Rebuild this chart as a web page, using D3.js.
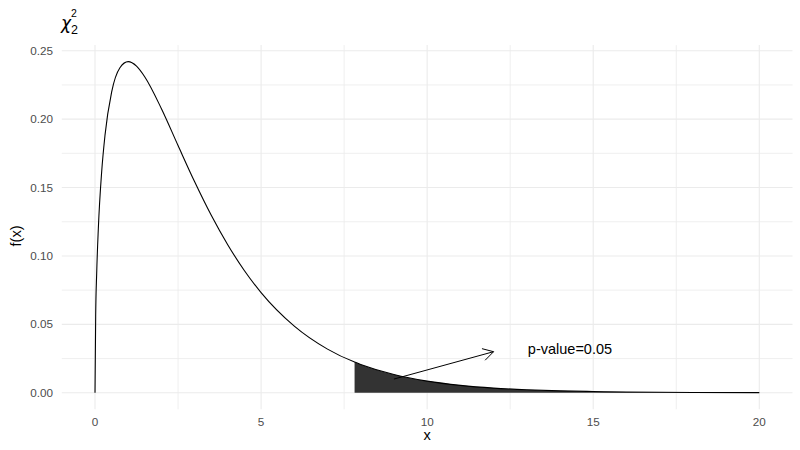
<!DOCTYPE html>
<html>
<head>
<meta charset="utf-8">
<script src="https://cdn.jsdelivr.net/npm/d3@7"></script>
<style>
  body { margin: 0; background: #fff; }
  text { font-family: "Liberation Sans", Arial, sans-serif; }
</style>
</head>
<body>
<div id="chart"></div>
<script>
// density values
const xs = [0, 0.02, 0.05, 0.1, 0.2, 0.3, 0.5, 0.75, 1, 1.25, 1.5, 2, 2.5, 3, 3.5, 4, 4.5, 5, 6, 7, 7.815, 8, 9, 10, 11, 12, 13, 14, 15, 16, 18, 20];
const fx = [0, 0.0559, 0.0870, 0.1200, 0.1614, 0.1881, 0.2197, 0.2375, 0.2420, 0.2387, 0.2308, 0.2076, 0.1807, 0.1542, 0.1297, 0.1080, 0.0892, 0.0732, 0.0487, 0.0319, 0.0224, 0.0207, 0.0133, 0.0085, 0.0054, 0.0034, 0.0022, 0.0014, 0.0009, 0.0005, 0.0002, 0.0001];
const critical = 7.815;
const xTicks = [0, 5, 10, 15, 20];
const xMinor = [2.5, 7.5, 12.5, 17.5];
const yTicks = [0, 0.05, 0.10, 0.15, 0.20, 0.25];
const yMinor = [0.025, 0.075, 0.125, 0.175, 0.225];
const arrowFrom = [9, 0.01];
const arrowTo = [12, 0.03];
const note = { x: 14.3, y: 0.032, label: "p-value=0.05" };

const W = 800, H = 450;
const points = xs.map((x, i) => ({ x, y: fx[i] }));
const tail = points.filter(d => d.x >= critical);

const svg = d3.select("#chart").append("svg")
  .attr("width", W).attr("height", H);

const x = d3.scaleLinear().domain([-1, 21]).range([61.8, 792.5]);
const y = d3.scaleLinear().domain([-0.0121, 0.2541]).range([409.3, 45.1]);

// grid
const grid = svg.append("g").attr("stroke", "#ebebeb");
grid.selectAll(".xm").data(xMinor).join("line")
  .attr("x1", d => x(d)).attr("x2", d => x(d))
  .attr("y1", y.range()[0]).attr("y2", y.range()[1])
  .attr("stroke-width", 0.8);
grid.selectAll(".ym").data(yMinor).join("line")
  .attr("y1", d => y(d)).attr("y2", d => y(d))
  .attr("x1", x.range()[0]).attr("x2", x.range()[1])
  .attr("stroke-width", 0.8);
grid.selectAll(".xM").data(xTicks).join("line")
  .attr("x1", d => x(d)).attr("x2", d => x(d))
  .attr("y1", y.range()[0]).attr("y2", y.range()[1])
  .attr("stroke-width", 1.1);
grid.selectAll(".yM").data(yTicks).join("line")
  .attr("y1", d => y(d)).attr("y2", d => y(d))
  .attr("x1", x.range()[0]).attr("x2", x.range()[1])
  .attr("stroke-width", 1.1);

// shaded tail
svg.append("path")
  .datum(tail)
  .attr("fill", "#333333")
  .attr("d", d3.area().x(d => x(d.x)).y0(y(0)).y1(d => y(d.y)).curve(d3.curveMonotoneX));

// density curve
svg.append("path")
  .datum(points)
  .attr("fill", "none")
  .attr("stroke", "#000")
  .attr("stroke-width", 1.1)
  .attr("d", d3.line().x(d => x(d.x)).y(d => y(d.y)).curve(d3.curveMonotoneX));

// arrow with open head
const ax1 = x(arrowFrom[0]), ay1 = y(arrowFrom[1]);
const ax2 = x(arrowTo[0]), ay2 = y(arrowTo[1]);
const ang = Math.atan2(ay2 - ay1, ax2 - ax1);
const len = 12, spread = Math.PI / 6;
const arrow = svg.append("g").attr("stroke", "#000").attr("stroke-width", 1).attr("fill", "none");
arrow.append("line").attr("x1", ax1).attr("y1", ay1).attr("x2", ax2).attr("y2", ay2);
arrow.append("polyline").attr("points", [
  [ax2 - len * Math.cos(ang - spread), ay2 - len * Math.sin(ang - spread)],
  [ax2, ay2],
  [ax2 - len * Math.cos(ang + spread), ay2 - len * Math.sin(ang + spread)]
].map(p => p.join(",")).join(" "));

svg.append("text")
  .attr("x", x(note.x)).attr("y", y(note.y))
  .attr("dy", "0.35em")
  .attr("text-anchor", "middle")
  .attr("font-size", 14.5)
  .attr("fill", "#000")
  .text(note.label);

// tick labels
svg.append("g").selectAll("text").data(xTicks).join("text")
  .attr("x", d => x(d)).attr("y", 426)
  .attr("text-anchor", "middle")
  .attr("font-size", 11.7)
  .attr("fill", "#4d4d4d")
  .text(d => d);
svg.append("g").selectAll("text").data(yTicks).join("text")
  .attr("x", 53).attr("y", d => y(d))
  .attr("dy", "0.35em")
  .attr("text-anchor", "end")
  .attr("font-size", 11.7)
  .attr("fill", "#4d4d4d")
  .text(d => d3.format(".2f")(d));

// axis titles
svg.append("text")
  .attr("x", x(10)).attr("y", 440)
  .attr("text-anchor", "middle")
  .attr("font-size", 14.6)
  .text("x");
svg.append("text")
  .attr("transform", "translate(21,236) rotate(-90)")
  .attr("text-anchor", "middle")
  .attr("font-size", 14.6)
  .text("f(x)");

// title chi-square with super/subscript
const title = svg.append("g");
title.append("text").attr("x", 61).attr("y", 29).attr("font-size", 17)
  .style("font-family", "'DejaVu Sans', sans-serif").style("font-style", "italic").text("χ");
title.append("text").attr("x", 71).attr("y", 17.3).attr("font-size", 10.5).text("2");
title.append("text").attr("x", 71).attr("y", 34.3).attr("font-size", 12.5).text("2");
</script>
</body>
</html>
